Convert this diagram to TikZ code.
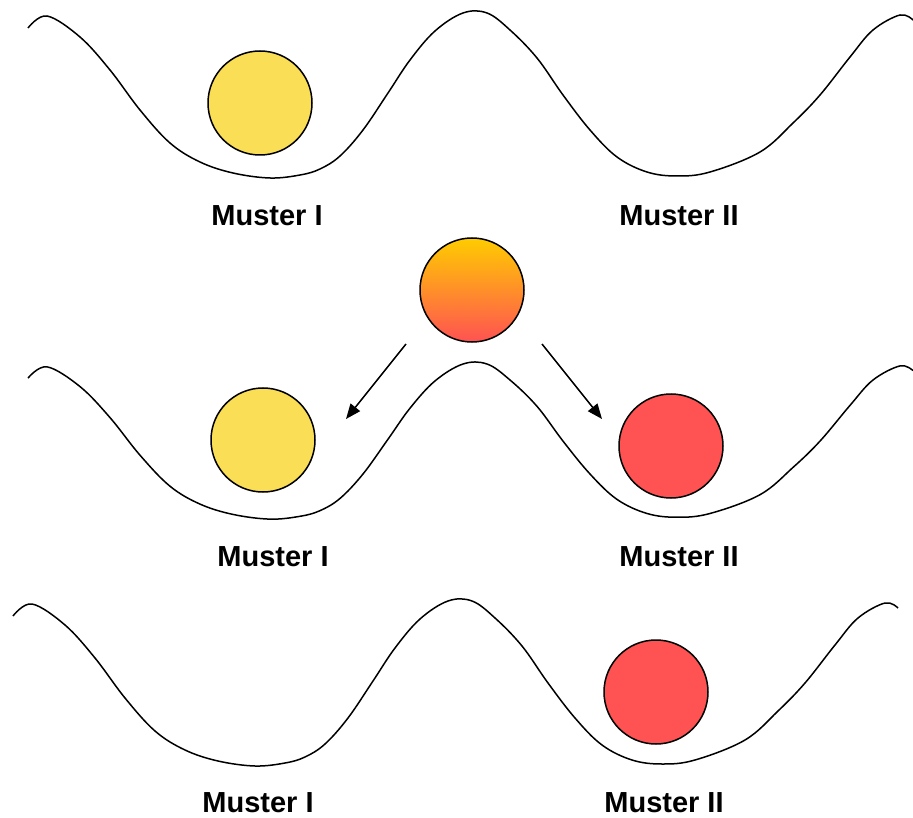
\documentclass[tikz,border=0pt]{standalone}
\usepackage{fontspec}
\setmainfont{Liberation Sans}
\usepackage{tikz}
\usetikzlibrary{arrows.meta, positioning}

\definecolor{gelb}{RGB}{250,222,85}
\definecolor{rot}{RGB}{255,82,82}
\definecolor{orangegelb}{RGB}{255,204,0}

% Potential landscape with two valleys
\newcommand{\tal}[3]{%
	\draw[welle, shift={(#1,#2)}, yscale=#3] plot[smooth, tension=0.6] coordinates {
		(28,28) (47,16) (80,37) (110,70) (140,110) (170,143) (200,162) (233,173)
		(270,178) (300,175) (320,169) (340,156) (363,130) (388,93) (410,60) (435,31)
		(463,13) (487,13) (510,30) (537,58) (563,95) (590,130) (617,157) (647,172)
		(677,176) (710,172) (760,152) (793,123) (820,95) (850,57) (873,30) (900,15)
		(913,20)};}

\begin{document}
\begin{tikzpicture}[x=1pt, y=-1pt,
		welle/.style={line width=1.5pt, line join=round},
		kugel/.style={circle, draw, line width=1.5pt, minimum size=104pt, inner sep=0pt},
		muster/.style={font=\bfseries\fontsize{29}{34}\selectfont, anchor=base, inner sep=0pt},
		pfeil/.style={line width=1.5pt, -{Triangle[length=15pt, width=12pt]}}]
		\useasboundingbox (0,0) rectangle (913,818);

		% Valleys
		\tal{0}{0}{1}
		\tal{0}{351.8}{0.94}
		\tal{-15}{588}{1}

		% Balls
		\node[kugel, fill=gelb] (kugelA) at (260,103) {};
		\node[kugel, top color=orangegelb, bottom color=rot] (kugelMix) at (472,290) {};
		\node[kugel, fill=gelb] (kugelB) at (263,440) {};
		\node[kugel, fill=rot] (kugelC) at (671,446) {};
		\node[kugel, fill=rot] (kugelD) at (656,692) {};

		% Arrows
		\coordinate (linksStart) at (406,344);
		\coordinate (linksEnde) at (346,419);
		\coordinate (rechtsStart) at (542,344);
		\coordinate (rechtsEnde) at (602,419);
		\draw[pfeil] (linksStart) -- (linksEnde);
		\draw[pfeil] (rechtsStart) -- (rechtsEnde);

		% Labels
		\node[muster] (einsA) at (267,226) {Muster I};
		\node[muster] (zweiA) at (679,226) {Muster II};
		\node[muster] (einsB) at (273,566) {Muster I};
		\node[muster] (zweiB) at (679,566) {Muster II};
		\node[muster] (einsC) at (258,812) {Muster I};
		\node[muster] (zweiC) at (664,812) {Muster II};
	\end{tikzpicture}
\end{document}
